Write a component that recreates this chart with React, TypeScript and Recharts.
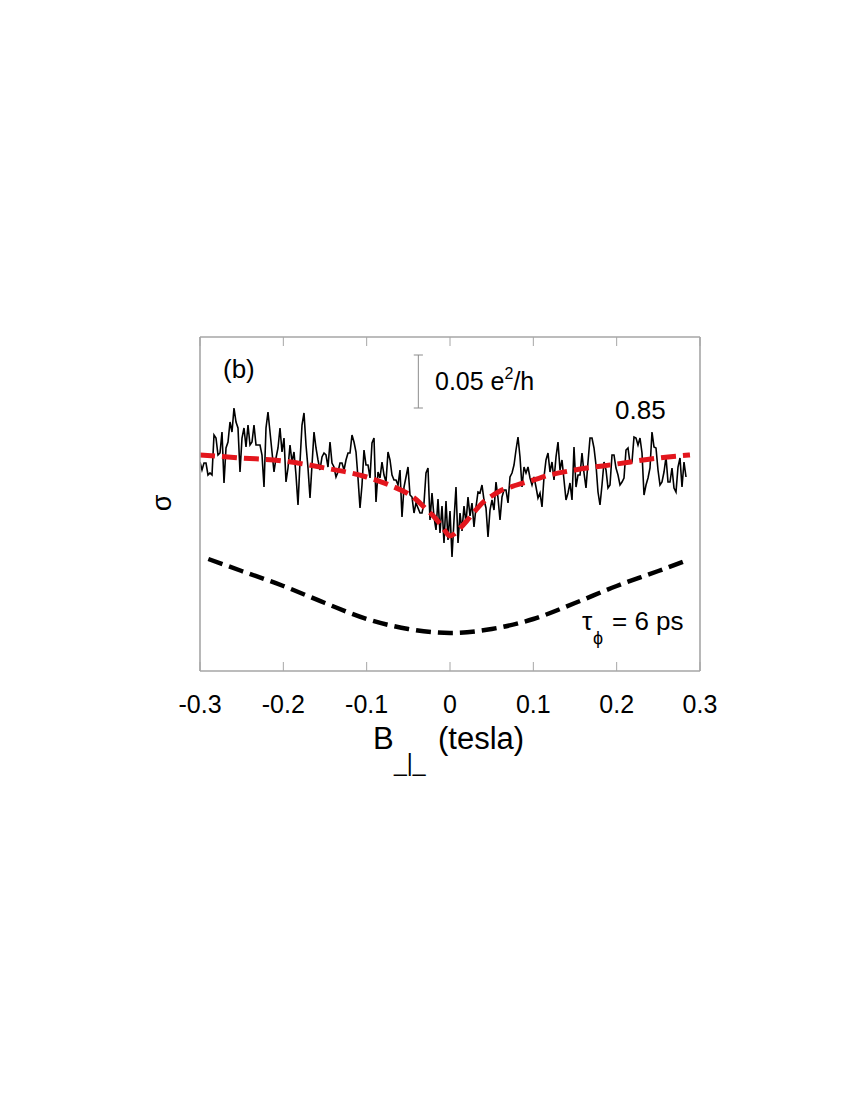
import React from 'react';
import { LineChart, Line, XAxis, YAxis, ReferenceLine } from 'recharts';

// sigma is in relative units: 53 units = 0.05 e^2/h
const B_TICKS = [-0.3, -0.2, -0.1, 0, 0.1, 0.2, 0.3];

// measured trace, sampled every 0.0024 T from -0.3 T
const TRACE_B_START = -0.3;
const TRACE_B_STEP = 0.0024;
const TRACE_SIGMA = [
  209, 201, 208, 208, 196, 198, 196, 236, 233, 216, 218, 239, 188, 223, 229, 249, 239, 263, 249, 243,
  199, 233, 243, 224, 246, 226, 229, 246, 226, 226, 226, 216, 184, 243, 259, 239, 219, 199, 213, 223,
  243, 219, 233, 189, 203, 226, 209, 219, 196,
  166, 209, 246, 258, 226, 203, 173, 206, 239, 223, 211, 201, 214, 218, 216, 204, 229, 208, 204, 194,
  199, 208, 208, 201, 211, 218, 218, 236, 229, 219, 193, 163, 186, 221, 206, 206, 193, 228, 233, 169,
  199, 193, 209, 196, 189, 219, 211, 196,
  191, 191, 186, 201, 154, 184, 194, 204, 176, 174, 158, 168, 163, 158, 158, 168, 198, 203, 151, 178,
  154, 141, 172, 138, 165, 128, 170, 131, 160, 114, 151, 184, 128, 158, 140, 165, 148, 174, 155,
  168, 144, 164, 179, 178, 186, 171, 163, 134,
  161, 171, 161, 189, 173, 151, 174, 181, 181, 168, 194, 198, 206, 221, 234, 214, 184, 204, 198, 204,
  193, 186, 194, 184, 173, 178, 164, 194, 211, 218, 199, 209, 191, 214, 229, 201, 211, 191, 171, 178,
  188, 171, 224, 184, 196, 196, 218, 198,
  183, 209, 233, 233, 223, 206, 179, 166, 186, 209, 201, 183, 186, 216, 216, 203, 196, 186, 189, 193,
  221, 223, 208, 209, 234, 233, 226, 233, 218, 176, 186, 193, 203, 239, 224, 223, 201, 186, 189, 199,
  214, 189, 189, 203, 183, 179, 204, 213, 184, 209, 194,
];

// fit (red dashed)
const FIT_B = [-0.3, -0.25, -0.2, -0.15, -0.1, -0.07, -0.05, -0.04, -0.03, -0.02, -0.01, -0.005, 0,
  0.005, 0.01, 0.02, 0.03, 0.04, 0.05, 0.06, 0.08, 0.1, 0.12, 0.15, 0.2, 0.25, 0.288];
const FIT_SIGMA = [216, 213, 210, 203, 194, 185, 177, 171, 163, 155, 145, 139, 135,
  137, 141, 150, 160, 169, 175, 180, 186, 191, 196, 201, 207, 213, 216];

// tau_phi = 6 ps curve (black dashed)
const THEORY_B = [-0.29, -0.25, -0.2, -0.15, -0.1, -0.05, 0, 0.05, 0.1, 0.15, 0.2, 0.25, 0.285];
const THEORY_SIGMA = [112, 100, 85, 68, 52, 42, 38, 42, 52, 68, 85, 100, 111];

// 0.05 e^2/h scale bar
const BAR_B = -0.038;
const BAR_LOW = 263;
const BAR_HIGH = 316;
const BAR_CAP = 0.0055;

const traceData = TRACE_SIGMA.map((s, i) => ({ b: TRACE_B_START + i * TRACE_B_STEP, s }));
const fitData = FIT_B.map((b, i) => ({ b, s: FIT_SIGMA[i] }));
const theoryData = THEORY_B.map((b, i) => ({ b, s: THEORY_SIGMA[i] }));

const FONT = "'Liberation Sans', Arial, sans-serif";
const FRAME = '#a6a6a6';

function BottomTick({ x, y, payload }: any) {
  return (
    <g>
      <line x1={x} x2={x} y1={y} y2={y - 9} stroke={FRAME} strokeWidth={1} />
      <text x={x} y={y + 42} textAnchor="middle" fontSize={25} fontFamily={FONT} fill="#000">
        {String(payload.value)}
      </text>
    </g>
  );
}

function TopTick({ x, y }: any) {
  return <line x1={x} x2={x} y1={y} y2={y + 9} stroke={FRAME} strokeWidth={1} />;
}

export default function App() {
  return (
    <div style={{ position: 'relative', width: 800, height: 800 }}>
      <LineChart width={800} height={800} margin={{ top: 319, right: 98, bottom: 77, left: 182 }}>
        <XAxis dataKey="b" type="number" domain={[-0.3, 0.3]} ticks={B_TICKS} interval={0}
          height={60} tickSize={0} tickMargin={0} tickLine={false}
          axisLine={{ stroke: FRAME, strokeWidth: 1.6 }} tick={<BottomTick />} allowDataOverflow />
        <XAxis xAxisId="top" orientation="top" dataKey="b" type="number" domain={[-0.3, 0.3]}
          ticks={B_TICKS} interval={0} height={10} tickSize={0} tickMargin={0} tickLine={false}
          axisLine={{ stroke: FRAME, strokeWidth: 1.6 }} tick={<TopTick />} allowDataOverflow />
        <YAxis type="number" domain={[0, 334]} width={10} tick={false} tickLine={false}
          axisLine={{ stroke: FRAME, strokeWidth: 1.6 }} allowDataOverflow />
        <YAxis yAxisId="right" orientation="right" type="number" domain={[0, 334]} width={10}
          tick={false} tickLine={false} axisLine={{ stroke: FRAME, strokeWidth: 1.6 }} allowDataOverflow />

        <ReferenceLine segment={[{ x: BAR_B, y: BAR_LOW }, { x: BAR_B, y: BAR_HIGH }]} stroke="#8c8c8c" strokeWidth={1} />
        <ReferenceLine segment={[{ x: BAR_B - BAR_CAP, y: BAR_LOW }, { x: BAR_B + BAR_CAP, y: BAR_LOW }]} stroke="#8c8c8c" strokeWidth={1} />
        <ReferenceLine segment={[{ x: BAR_B - BAR_CAP, y: BAR_HIGH }, { x: BAR_B + BAR_CAP, y: BAR_HIGH }]} stroke="#8c8c8c" strokeWidth={1} />

        <Line data={traceData} dataKey="s" type="linear" stroke="#000" strokeWidth={1.6}
          dot={false} isAnimationActive={false} />
        <Line data={fitData} dataKey="s" type="monotone" stroke="#e3161d" strokeWidth={5}
          strokeDasharray="15 7" dot={false} isAnimationActive={false} />
        <Line data={theoryData} dataKey="s" type="monotone" stroke="#000" strokeWidth={4.5}
          strokeDasharray="15 7" dot={false} isAnimationActive={false} />
      </LineChart>

      <svg width={800} height={800} style={{ position: 'absolute', left: 0, top: 0, pointerEvents: 'none' }}
        fontFamily={FONT} fill="#000">
        <text x={215} y={370} fontSize={26}>(b)</text>
        <text x={427} y={382} fontSize={25}>
          0.05 e<tspan fontSize={16} dy={-11}>2</tspan><tspan dy={11}>/h</tspan>
        </text>
        <text x={607} y={411} fontSize={26}>0.85</text>
        <text x={574} y={622} fontSize={26}>τ</text>
        <text x={585} y={636} fontSize={18}>ϕ</text>
        <text x={604} y={622} fontSize={26}>= 6 ps</text>
        <text x={154} y={495} fontSize={27} textAnchor="middle" dominantBaseline="central"
          transform="rotate(-90 154 495)">σ</text>
        <text x={365} y={741} fontSize={31}>B</text>
        <text x={386} y={763} fontSize={23}>_|_</text>
        <text x={430} y={741} fontSize={31}>(tesla)</text>
      </svg>
    </div>
  );
}
